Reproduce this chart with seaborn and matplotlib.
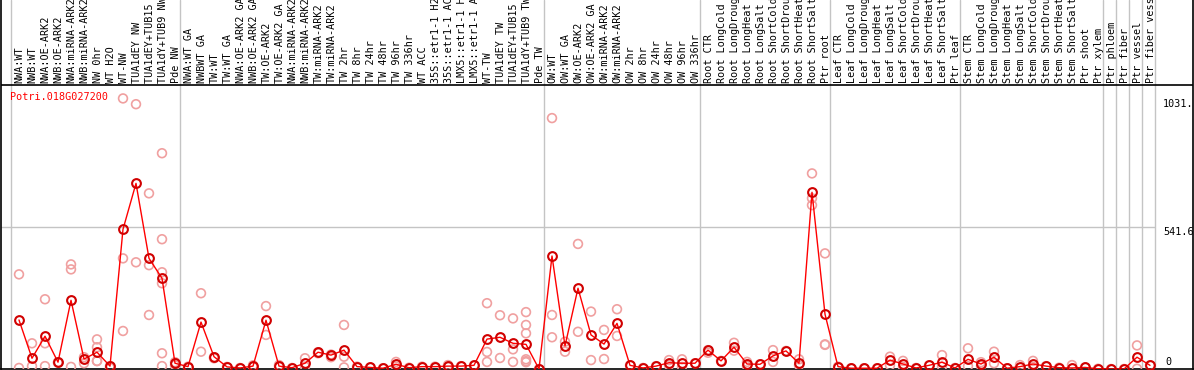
import numpy as np
import pandas as pd
import matplotlib
matplotlib.use("Agg")
import matplotlib.pyplot as plt
import seaborn as sns

gene = "Potri.018G027200"

categories = [
    "NWA:WT", "NWB:WT", "NWA:OE-ARK2", "NWB:OE-ARK2", "NWA:miRNA-ARK2", "NWB:miRNA-ARK2",
    "NW 0hr", "WT H2O", "WT-NW", "TUA1dEY NW", "TUA1dEY+TUB15 NW", "TUA1dY+TUB9 NW", "Pde NW",
    "NWA:WT GA", "NWBWT GA", "TW:WT", "TW:WT GA", "NWA:OE-ARK2 GA", "NWB:OE-ARK2 GA",
    "TW:OE-ARK2", "TW:OE-ARK2 GA", "NWA:miRNA-ARK2", "NWB:miRNA-ARK2", "TW:miRNA-ARK2",
    "TW:miRNA-ARK2", "TW 2hr", "TW 8hr", "TW 24hr", "TW 48hr", "TW 96hr", "TW 336hr",
    "WT ACC", "35S::etr1-1 H2O", "35S::etr1-1 ACC", "LMX5::etr1-1 H2O", "LMX5::etr1-1 ACC",
    "WT-TW", "TUA1dEY TW", "TUA1dEY+TUB15 TW", "TUA1dY+TUB9 TW", "Pde TW",
    "OW:WT", "OW:WT GA", "OW:OE-ARK2", "OW:OE-ARK2 GA", "OW:miRNA-ARK2", "OW:miRNA-ARK2",
    "OW 2hr", "OW 8hr", "OW 24hr", "OW 48hr", "OW 96hr", "OW 336hr",
    "Root CTR", "Root LongCold", "Root LongDrought", "Root LongHeat", "Root LongSalt",
    "Root ShortCold", "Root ShortDrought", "Root ShortHeat", "Root ShortSalt", "Ptr root",
    "Leaf CTR", "Leaf LongCold", "Leaf LongDrought", "Leaf LongHeat", "Leaf LongSalt",
    "Leaf ShortCold", "Leaf ShortDrought", "Leaf ShortHeat", "Leaf ShortSalt", "Ptr leaf",
    "Stem CTR", "Stem LongCold", "Stem LongDrought", "Stem LongHeat", "Stem LongSalt",
    "Stem ShortCold", "Stem ShortDrought", "Stem ShortHeat", "Stem ShortSalt", "Ptr shoot",
    "Ptr xylem", "Ptr phloem", "Ptr fiber", "Ptr vessel", "Ptr fiber vessel",
]

# first category index of each group (separators drawn before these)
group_starts = [0, 13, 41, 53, 63, 73, 84, 85, 86, 87, 88]

mean_values = [
    187, 41, 125, 26, 262, 38, 64, 11, 533, 708, 422, 346, 22,
    9, 179, 47, 8, 4, 11, 186, 11, 5, 22, 64, 53, 72, 9, 6, 3, 18, 5,
    9, 9, 11, 11, 14, 114, 121, 98, 94, 0,
    431, 88, 308, 130, 95, 174, 14, 4, 11, 24, 22, 22,
    72, 31, 83, 19, 18, 50, 69, 22, 674, 209,
    9, 3, 3, 3, 34, 19, 4, 14, 26, 4,
    37, 19, 45, 3, 9, 19, 11, 5, 4, 6, 1,
    0, 0, 45, 14,
]

rep_index = [
    0, 0, 1, 1, 2, 2, 2, 3, 3, 4, 4, 4, 5, 5, 6, 6, 6, 6, 7, 7,
    8, 8, 8, 9, 9, 10, 10, 10, 11, 11, 11, 11, 11, 11, 12, 12, 13, 13,
    14, 14, 15, 15, 16, 17, 18, 18, 19, 19, 20, 20, 21, 22, 22, 23, 23,
    24, 24, 25, 25, 25, 26, 27, 28, 29, 29, 30, 31, 32, 33, 33, 34, 35,
    36, 36, 36, 37, 37, 38, 38, 38, 39, 39, 39, 39, 39, 39, 40,
    41, 41, 41, 42, 42, 43, 43, 44, 44, 45, 45, 46, 46, 47, 48, 49,
    50, 50, 51, 51, 52, 53, 53, 54, 55, 55, 56, 56, 57, 58, 58, 59,
    60, 60, 61, 61, 61, 62, 62, 62, 63, 64, 65, 66, 67, 67, 68, 68,
    69, 70, 71, 71, 72, 73, 73, 74, 74, 75, 75, 76, 77, 78, 78, 79,
    80, 81, 82, 83, 84, 85, 86, 86, 87,
]
rep_values = [
    361, 4, 98, 11, 266, 98, 11, 26, 24, 399, 380, 8, 45, 22, 113, 83, 31, 30, 11, 4,
    1032, 422, 145, 1010, 407, 670, 396, 206, 823, 495, 369, 327, 60, 11, 26, 14, 9, 6,
    289, 66, 45, 41, 8, 4, 14, 8, 240, 130, 15, 8, 4, 41, 9, 64, 60,
    45, 55, 168, 47, 6, 9, 6, 3, 27, 9, 5, 9, 9, 15, 8, 11, 14,
    251, 65, 27, 205, 42, 193, 75, 27, 217, 168, 136, 37, 30, 26, 0,
    957, 206, 121, 104, 66, 477, 142, 219, 34, 149, 38, 228, 126, 14, 4, 11,
    34, 14, 37, 8, 22, 72, 62, 31, 100, 70, 27, 11, 18, 72, 27, 69,
    37, 14, 746, 651, 625, 441, 94, 92, 9, 3, 3, 3, 47, 14, 31, 8,
    4, 14, 53, 9, 4, 79, 11, 26, 12, 66, 22, 3, 15, 31, 8, 11,
    5, 15, 6, 1, 0, 0, 90, 1, 14,
]

axis_max_label = "1031."
axis_mid_value = 541.6

# ---------------------------------------------------------------------------
W, H, DPI = 1194, 370, 100
fig = plt.figure(figsize=(W / DPI, H / DPI), dpi=DPI)
sns.set_style("white")
plt.rcParams["font.family"] = ["DejaVu Sans Mono", "DejaVu Sans"]

ax = fig.add_axes([1 / W, 1 / H, (W - 2) / W, (H - 1) / H])

# pixel geometry of the reference: category i at x = 19 + 13*i px
px0, pxstep = 19.0, 13.0
def xdata(px):
    return (px - px0) / pxstep

plot_top_px, plot_bot_px = 85.0, 369.0
data_top = 2 * axis_mid_value            # value at the black line under labels
scale = (plot_bot_px - plot_top_px) / data_top   # px per unit
ymax = plot_bot_px / scale

ax.set_xlim(xdata(1), xdata(W - 1))
ax.set_ylim(0, ymax)

# separators
for g in group_starts:
    ax.axvline(g - 0.615, color="#c4c4c4", lw=1.0, zorder=1)
ax.hlines(axis_mid_value, xdata(1), group_starts[-1] - 0.615, color="#c4c4c4", lw=1.0, zorder=1)
ax.axhline(data_top, color="black", lw=1.2, zorder=2)

# replicates
rep_df = pd.DataFrame({"x": rep_index, "y": rep_values})
sns.scatterplot(data=rep_df, x="x", y="y", ax=ax, marker="o", s=40,
                facecolor="none", edgecolor="#f0a0a0", linewidth=1.2, zorder=3,
                legend=False)

# mean line
mean_df = pd.DataFrame({"x": np.arange(len(mean_values)), "y": mean_values})
sns.lineplot(data=mean_df, x="x", y="y", ax=ax, color="#ff0000", lw=1.0, zorder=4,
             marker="o", markersize=6.3, markerfacecolor="none",
             markeredgecolor="#d00000", markeredgewidth=1.5, legend=False)

# category labels (rotated, above the plot)
label_y = data_top + 2 / scale
for i, lab in enumerate(categories):
    ax.text(i + 0.04, label_y, lab, rotation=90, ha="center", va="bottom",
            fontsize=7.3, color="black", clip_on=True, zorder=5)

# gene name
ax.text(xdata(10), (plot_bot_px - 97) / scale, gene, color="#ff0000",
        fontsize=7.3, ha="left", va="center", zorder=6)

# value axis labels on the right
xr = xdata(1163)
ax.text(xr, 1031, axis_max_label, ha="left", va="top", fontsize=7.3, color="black")
ax.text(xr, axis_mid_value, f"{axis_mid_value:g}", ha="left", va="top", fontsize=7.3, color="black")
ax.text(xr + 0.15, 2 / scale, "0", ha="left", va="bottom", fontsize=7.3, color="black")

ax.set_xticks([])
ax.set_yticks([])
ax.set_xlabel("")
ax.set_ylabel("")
for side in ["left", "right", "bottom"]:
    ax.spines[side].set_visible(True)
    ax.spines[side].set_color("black")
    ax.spines[side].set_linewidth(1.2)
ax.spines["top"].set_visible(False)

fig.savefig("out.png", dpi=DPI)
